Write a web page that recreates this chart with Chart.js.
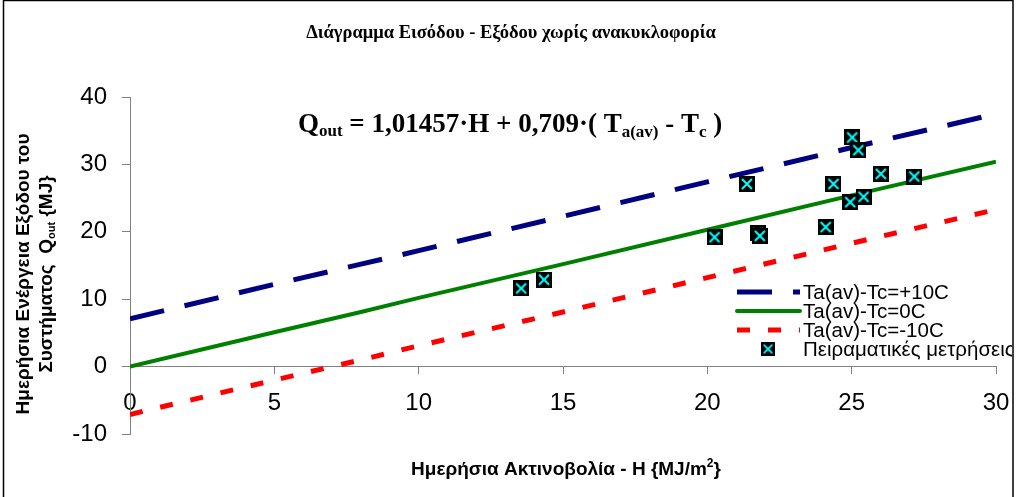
<!DOCTYPE html>
<html>
<head>
<meta charset="utf-8">
<script src="https://cdn.jsdelivr.net/npm/chart.js@4/dist/chart.umd.min.js"></script>
<style>
html,body{margin:0;padding:0;background:#fff;}
canvas{display:block;}
</style>
</head>
<body>
<canvas id="c" width="1019" height="497"></canvas>
<script>
// ---- data ----
const TITLE = 'Διάγραμμα Εισόδου - Εξόδου χωρίς ανακυκλοφορία';
const X_TITLE = 'Ημερήσια Ακτινοβολία - H {MJ/m';
const Y_TITLE_1 = 'Ημερήσια Ενέργεια Εξόδου του';
const Y_TITLE_2 = 'Συστήματος  Q';
const SERIES_NAMES = ['Ta(av)-Tc=+10C', 'Ta(av)-Tc=0C', 'Ta(av)-Tc=-10C', 'Πειραματικές μετρήσεις'];

const H_LINE    = [0, 5, 8, 10, 15, 20, 25, 30];
const Q_PLUS10  = [7.1, 12.2, 15.2, 17.2, 22.3, 27.4, 32.5, 37.5];
const Q_ZERO    = [0, 5.1, 8.1, 10.2, 15.2, 20.3, 25.4, 30.4];
const Q_MINUS10 = [-7.1, -2.0, 1.0, 3.1, 8.1, 13.2, 18.3, 23.3];

const MEAS_H = [13.55, 14.34, 20.25, 21.37, 21.76, 21.82, 24.1, 24.37, 24.95, 25.41, 25.02, 25.23, 26.01, 27.17];
const MEAS_Q = [11.6, 12.9, 19.2, 27.1, 19.8, 19.4, 20.7, 27.1, 24.4, 25.2, 34.0, 32.1, 28.6, 28.2];

const X_TICKS = [0, 5, 10, 15, 20, 25, 30];
const Y_TICKS = [-10, 0, 10, 20, 30, 40];

// ---- marker image ----
function makeMarker(){
  const m = document.createElement('canvas');
  m.width = 16; m.height = 16;
  const g = m.getContext('2d');
  g.fillStyle = '#000';
  g.fillRect(0,0,16,16);
  g.strokeStyle = '#00FFFF';
  g.lineWidth = 2;
  g.beginPath();
  g.moveTo(3,3); g.lineTo(13,13);
  g.moveTo(13,3); g.lineTo(3,13);
  g.stroke();
  return m;
}
const MARK = makeMarker();

const pts = (xs, ys) => xs.map((x,i)=>({x:x, y:ys[i]}));

const AXIS_GRAY = '#808080';
const SANS = "'Liberation Sans', Arial, sans-serif";
const SERIF = "'Liberation Serif', 'Times New Roman', serif";

const datasets = [
  {label: SERIES_NAMES[0], data: pts(H_LINE, Q_PLUS10), showLine: true, borderColor: '#000080',
   borderWidth: 5, borderDash: [35,21], pointRadius: 0, order: 3, borderCapStyle: 'butt'},
  {label: SERIES_NAMES[1], data: pts(H_LINE, Q_ZERO), showLine: true, borderColor: '#008000',
   borderWidth: 4, pointRadius: 0, order: 2},
  {label: SERIES_NAMES[2], data: pts(H_LINE, Q_MINUS10), showLine: true, borderColor: '#FF0000',
   borderWidth: 5, borderDash: [13,18], pointRadius: 0, order: 1, borderCapStyle: 'butt'},
  {label: SERIES_NAMES[3], data: pts(MEAS_H, MEAS_Q), showLine: false, pointStyle: MARK,
   pointRadius: 8, order: 0}
];

function drawRich(ctx, parts, x, y){
  let cx = x;
  for (const p of parts){
    ctx.font = p[1];
    ctx.fillText(p[0], cx, y + p[2]);
    cx += ctx.measureText(p[0]).width;
  }
  return cx - x;
}
function richWidth(ctx, parts){
  let w = 0;
  for (const p of parts){ ctx.font = p[1]; w += ctx.measureText(p[0]).width; }
  return w;
}

const decor = {
  id: 'decor',
  afterDraw(chart){
    const ctx = chart.ctx;
    ctx.save();
    ctx.fillStyle = '#000';
    // title
    ctx.font = 'bold 18.5px ' + SERIF;
    ctx.textAlign = 'center';
    ctx.textBaseline = 'middle';
    ctx.fillText(TITLE, 511, 33);

    // equation
    ctx.textAlign = 'left';
    ctx.textBaseline = 'alphabetic';
    const big = 'bold 27px ' + SERIF, small = 'bold 17px ' + SERIF;
    drawRich(ctx, [
      ['Q', big, 0], ['out', small, 4], [' = 1,01457·H + 0,709·( T', big, 0],
      ['a(av)', small, 5], [' - T', big, 0], ['c', small, 5], [' )', big, 0]
    ], 298, 132);

    // x axis title
    const xt = [[X_TITLE, 'bold 19px ' + SANS, 0], ['2', 'bold 12px ' + SANS, -6], ['}', 'bold 19px ' + SANS, 0]];
    ctx.textBaseline = 'middle';
    const xw = richWidth(ctx, xt);
    drawRich(ctx, xt, 566 - xw/2, 470);

    // y axis title (rotated)
    ctx.save();
    ctx.translate(24, 274);
    ctx.rotate(-Math.PI/2);
    ctx.textAlign = 'center';
    ctx.font = 'bold 19px ' + SANS;
    ctx.fillText(Y_TITLE_1, 0, 0);
    ctx.restore();
    ctx.save();
    ctx.translate(47, 274);
    ctx.rotate(-Math.PI/2);
    ctx.textAlign = 'left';
    const yt = [[Y_TITLE_2, 'bold 19px ' + SANS, 0], ['out', 'bold 11px ' + SANS, 5], [' {MJ}', 'bold 19px ' + SANS, 0]];
    const yw = richWidth(ctx, yt);
    drawRich(ctx, yt, -yw/2, 0);
    ctx.restore();

    // legend
    ctx.save();
    ctx.beginPath();
    ctx.rect(0, 0, 1012, 497);
    ctx.clip();
    const rows = [292, 311, 330, 349];
    for (let i = 0; i < 3; i++){
      const ds = chart.data.datasets[i];
      ctx.beginPath();
      ctx.strokeStyle = ds.borderColor;
      ctx.lineWidth = ds.borderWidth;
      ctx.lineCap = i === 1 ? 'round' : 'butt';
      ctx.setLineDash(ds.borderDash || []);
      ctx.moveTo(737, rows[i]);
      ctx.lineTo(800, rows[i]);
      ctx.stroke();
    }
    ctx.setLineDash([]);
    ctx.drawImage(MARK, 768 - 7, rows[3] - 7, 14, 14);
    ctx.font = '20.5px ' + SANS;
    ctx.fillStyle = '#000';
    ctx.textAlign = 'left';
    ctx.textBaseline = 'middle';
    for (let i = 0; i < 4; i++) ctx.fillText(SERIES_NAMES[i], 803, rows[i] + 1);
    ctx.restore();

    // outer frame
    ctx.strokeStyle = '#000';
    ctx.lineWidth = 1.5;
    ctx.strokeRect(3.5, 0.5, 1009.5, 498);
    ctx.restore();
  }
};

new Chart(document.getElementById('c'), {
  type: 'scatter',
  data: {datasets},
  options: {
    responsive: false,
    animation: false,
    devicePixelRatio: 1,
    layout: {padding: {left: 0, top: 97, right: 23, bottom: 63}},
    plugins: {legend: {display: false}, tooltip: {enabled: false}, title: {display: false}},
    scales: {
      x: {
        type: 'linear',
        position: {y: 0},
        min: 0, max: 30,
        afterBuildTicks: s => { s.ticks = X_TICKS.map(v => ({value: v})); },
        ticks: {color: '#000', font: {family: SANS, size: 24}, padding: 15, maxRotation: 0, autoSkip: false},
        grid: {drawOnChartArea: false, drawTicks: true, tickLength: 7, color: AXIS_GRAY},
        border: {color: AXIS_GRAY, width: 1},
        afterFit: s => { s.paddingLeft = 0; s.paddingRight = 0; s.paddingTop = 0; s.paddingBottom = 0; }
      },
      y: {
        type: 'linear',
        min: -10, max: 40,
        afterBuildTicks: s => { s.ticks = Y_TICKS.map(v => ({value: v})); },
        ticks: {color: '#000', font: {family: SANS, size: 24}, padding: 15, autoSkip: false},
        grid: {drawOnChartArea: false, drawTicks: true, tickLength: 8, color: AXIS_GRAY},
        border: {color: AXIS_GRAY, width: 1},
        afterFit: s => { s.width = 130; s.paddingTop = 0; s.paddingBottom = 0; }
      }
    }
  },
  plugins: [decor]
});
</script>
</body>
</html>
